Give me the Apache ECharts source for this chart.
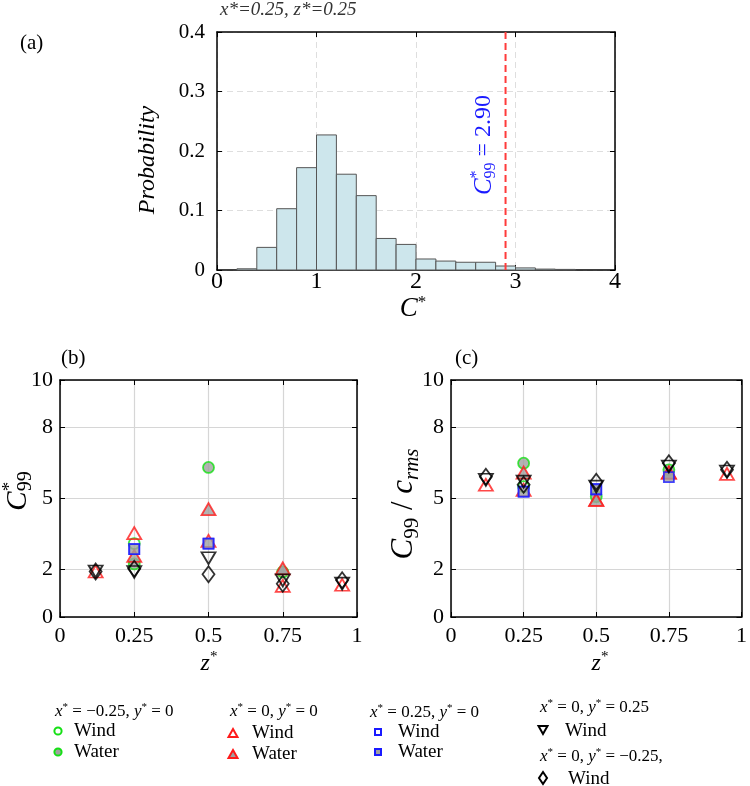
<!DOCTYPE html>
<html><head><meta charset="utf-8">
<script src="https://cdn.jsdelivr.net/npm/echarts@6/dist/echarts.min.js"></script>
<style>html,body{margin:0;padding:0;background:#fff}#c{width:750px;height:786px}</style>
</head><body><div id="c"></div>
<script>
// ---------- DATA ----------
const binEdges = [0.2,0.4,0.6,0.8,1.0,1.2,1.4,1.6,1.8,2.0,2.2,2.4,2.6,2.8,3.0,3.2,3.4,3.6];
const probabilities = [0.002,0.038,0.103,0.172,0.227,0.161,0.125,0.053,0.043,0.0185,0.015,0.013,0.013,0.0067,0.0035,0.0015,0.001];
const c99Value = 2.90;
const histXTicks = [0,1,2,3,4];
const histYTicks = [0,0.1,0.2,0.3,0.4];

const zPositions = [0.12,0.25,0.5,0.75,0.95];
const yTicksBC = [0,2,5,8,10];
// panel (b): C*99
const bWindXm025  = [null,3.10,null,null,null];
const bWaterXm025 = [null,2.24,6.31,1.90,null];
const bWindX0     = [1.92,3.54,3.21,1.31,1.36];
const bWaterX0    = [null,2.58,4.55,2.05,null];
const bWindX025   = [null,2.86,3.10,null,null];
const bWaterX025  = [null,2.86,3.10,null,null];
const bWindY025   = [1.92,1.90,2.48,1.55,1.41];
const bWindYm025  = [1.92,2.04,1.80,1.40,1.55];
// panel (c): C99/c_rms
const cWindXm025  = [null,5.50,null,null,null];
const cWaterXm025 = [null,6.49,5.08,6.21,null];
const cWindX0     = [5.58,5.36,4.94,6.09,6.04];
const cWaterX0    = [null,6.09,4.94,6.09,null];
const cWindX025   = [null,5.29,5.39,null,null];
const cWaterX025  = [null,5.29,5.39,5.90,null];
const cWindY025   = [5.79,5.71,5.50,6.35,6.14];
const cWindYm025  = [5.92,5.58,5.71,6.49,6.21];

// ---------- STYLE ----------
const FF = '"Liberation Serif","Times New Roman",serif';
const GREEN = '#14e014', RED = '#ff1a1a', BLUE = '#1a1aff', GRAY = '#a0a0a0', NONE = 'rgba(0,0,0,0)';
const chart = echarts.init(document.getElementById('c'), null, {renderer:'canvas'});

const mctx = document.createElement('canvas').getContext('2d');
function fstr(p){ return (p.italic?'italic ':'') + p.size + 'px ' + FF; }
function mathGroup(parts, o){
  let x = 0, lastStart = 0; const kids = [];
  parts.forEach(p => {
    mctx.font = fstr(p);
    const w = mctx.measureText(p.t).width;
    const start = p.stack ? lastStart : x;
    lastStart = start;
    kids.push({type:'text', x:start, y:(p.dy||0), style:{text:p.t, fontFamily:FF, fontSize:p.size, fontStyle:p.italic?'italic':'normal', fill:o.color||'#000', align:'left', verticalAlign:'middle'}});
    x = Math.max(x, start + w);
  });
  const off = o.align === 'center' ? -x/2 : (o.align === 'right' ? -x : 0);
  kids.forEach(k => k.x += off);
  return {type:'group', x:o.x, y:o.y, rotation:o.rotation||0, children:kids};
}
function xyHeader(xs, ys, tail){
  const S = 17, s = 11;
  return [
    {t:'x', size:S, italic:true},{t:'*', size:s, dy:-5},{t:' = '+xs+', ', size:S},
    {t:'y', size:S, italic:true},{t:'*', size:s, dy:-5},{t:' = '+ys+(tail||''), size:S}
  ];
}

function pts(arr){ return zPositions.map((z,i)=> arr[i]==null ? null : [z, arr[i]]).filter(Boolean); }

const markerDefs = [
  {sym:'circle', size:11, fill:NONE, stroke:GREEN},
  {sym:'circle', size:11, fill:GRAY, stroke:GREEN},
  {sym:'triangle', size:[14,12], fill:NONE, stroke:RED},
  {sym:'triangle', size:[14,12], fill:GRAY, stroke:RED},
  {sym:'rect', size:10, fill:NONE, stroke:BLUE},
  {sym:'rect', size:10, fill:GRAY, stroke:BLUE},
  {sym:'triangle', size:[14,12], fill:NONE, stroke:'#000', rot:180},
  {sym:'diamond', size:[12,16], fill:NONE, stroke:'#000'}
];
function panelSeries(axisIdx, arrays){
  return arrays.map((arr, k) => {
    const m = markerDefs[k];
    return {type:'scatter', xAxisIndex:axisIdx, yAxisIndex:axisIdx, data:pts(arr),
      symbol:m.sym, symbolSize:m.size, symbolRotate:m.rot||0,
      itemStyle:{color:m.fill, borderColor:m.stroke, borderWidth:1.8}, silent:true, z:3+k};
  });
}

function axisCommon(extra){
  return Object.assign({
    axisLine:{show:true, onZero:false, lineStyle:{color:'#000', width:1.5}},
    axisTick:{show:true, inside:true, length:5, lineStyle:{color:'#000', width:1}},
    axisLabel:{color:'#000', fontFamily:FF, fontSize:22},
  }, extra);
}
const histX = {min:0, max:4, interval:1};
const histY = {min:0, max:0.4, interval:0.1};
const bcX = {min:0, max:1, interval:0.25};
const bcY = {min:0, max:10};
const dashSplit = {show:true, lineStyle:{color:'#dedede', width:1, type:[6,4]}};
const solidSplit = {show:true, lineStyle:{color:'#d6d6d6', width:1.2}};

// bottom axes first, then top (mirror) axes
const xAxes = [
  axisCommon(Object.assign({type:'value', gridIndex:0, position:'bottom', splitLine:dashSplit,
    axisLabel:{color:'#000', fontFamily:FF, fontSize:24, margin:0, hideOverlap:false}}, histX)),
  axisCommon(Object.assign({type:'value', gridIndex:1, position:'bottom', splitLine:solidSplit,
    axisLabel:{color:'#000', fontFamily:FF, fontSize:22, margin:8}}, bcX)),
  axisCommon(Object.assign({type:'value', gridIndex:2, position:'bottom', splitLine:solidSplit,
    axisLabel:{color:'#000', fontFamily:FF, fontSize:22, margin:8}}, bcX)),
  axisCommon(Object.assign({type:'value', gridIndex:0, position:'top', splitLine:{show:false}, axisLabel:{show:false}}, histX)),
  axisCommon(Object.assign({type:'value', gridIndex:1, position:'top', splitLine:{show:false}, axisLabel:{show:false}}, bcX)),
  axisCommon(Object.assign({type:'value', gridIndex:2, position:'top', splitLine:{show:false}, axisLabel:{show:false}}, bcX))
];
function bcYAxis(g, pos, main){
  return axisCommon(Object.assign({type:'value', gridIndex:g, position:pos,
    splitLine: main ? solidSplit : {show:false},
    axisTick:{show:true, inside:true, length:5, customValues:yTicksBC, lineStyle:{color:'#000', width:1}},
    axisLabel: main ? {color:'#000', fontFamily:FF, fontSize:22, margin:7, customValues:yTicksBC} : {show:false}
  }, bcY));
}
const yAxes = [
  axisCommon(Object.assign({type:'value', gridIndex:0, position:'left', splitLine:dashSplit,
    axisLabel:{color:'#000', fontFamily:FF, fontSize:21, margin:12, formatter:v => v===0 ? '0' : v.toFixed(1)}}, histY)),
  bcYAxis(1,'left',true), bcYAxis(2,'left',true),
  axisCommon(Object.assign({type:'value', gridIndex:0, position:'right', splitLine:{show:false}, axisLabel:{show:false}}, histY)),
  bcYAxis(1,'right',false), bcYAxis(2,'right',false)
];

const histData = probabilities.map((p,i) => [binEdges[i], binEdges[i+1], p]);

const series = [
  {type:'custom', xAxisIndex:0, yAxisIndex:0, data:histData, encode:{x:[0,1], y:2}, silent:true,
    renderItem:(params, api) => {
      const a = api.coord([api.value(0), api.value(2)]);
      const b = api.coord([api.value(1), 0]);
      return {type:'rect', shape:{x:a[0], y:a[1], width:b[0]-a[0], height:b[1]-a[1]},
        style:{fill:'#cde6ec', stroke:'#555', lineWidth:1}};
    }},
  {type:'line', xAxisIndex:0, yAxisIndex:0, data:[[c99Value,0],[c99Value,0.4]], symbol:'none', silent:true,
    lineStyle:{color:'#ff3b3b', width:2, type:[7,4]}, z:5},
  ...panelSeries(1, [bWindXm025,bWaterXm025,bWindX0,bWaterX0,bWindX025,bWaterX025,bWindY025,bWindYm025]),
  ...panelSeries(2, [cWindXm025,cWaterXm025,cWindX0,cWaterX0,cWindX025,cWaterX025,cWindY025,cWindYm025])
];

// ---------- ANNOTATIONS / LEGEND ----------
const R = Math.PI/2;
const graphics = [
  {type:'text', x:220, y:10, style:{text:'x*=0.25, z*=0.25', fontFamily:FF, fontSize:19, fontStyle:'italic', fill:'#333', align:'left', verticalAlign:'middle'}},
  {type:'text', x:20, y:43, style:{text:'(a)', fontFamily:FF, fontSize:21, fill:'#000', align:'left', verticalAlign:'middle'}},
  {type:'text', x:61, y:358, style:{text:'(b)', fontFamily:FF, fontSize:21, fill:'#000', align:'left', verticalAlign:'middle'}},
  {type:'text', x:455, y:358, style:{text:'(c)', fontFamily:FF, fontSize:21, fill:'#000', align:'left', verticalAlign:'middle'}},
  {type:'text', x:148, y:160, rotation:R, style:{text:'Probability', fontFamily:FF, fontSize:24, fontStyle:'italic', fill:'#000', align:'center', verticalAlign:'middle'}},
  mathGroup([{t:'C', size:27, italic:true},{t:'*', size:17, dy:-6}], {x:413, y:309, align:'center'}),
  mathGroup([{t:'z', size:24, italic:true},{t:'*', size:15, dy:-7}], {x:209, y:664, align:'center'}),
  mathGroup([{t:'z', size:24, italic:true},{t:'*', size:15, dy:-7}], {x:600, y:664, align:'center'}),
  mathGroup([{t:'C', size:29, italic:true},{t:'*', size:19, dy:-8},{t:'99', size:20, dy:8, stack:true}], {x:18, y:491, rotation:R, align:'center'}),
  mathGroup([{t:'C', size:31, italic:true},{t:'99', size:21, dy:8},{t:' / ', size:31},{t:'c', size:31, italic:true},{t:'rms', size:21, italic:true, dy:8}], {x:404, y:504, rotation:R, align:'center'}),
  mathGroup([{t:'C', size:25, italic:true},{t:'*', size:16, dy:-7},{t:'99', size:16, dy:7, stack:true},{t:' = 2.90', size:24}], {x:484, y:145, rotation:R, align:'center', color:'#1a1aff'}),
  // legend headers
  mathGroup(xyHeader('\u22120.25','0'), {x:55, y:712}),
  mathGroup(xyHeader('0','0'), {x:230, y:712}),
  mathGroup(xyHeader('0.25','0'), {x:370, y:713}),
  mathGroup(xyHeader('0','0.25'), {x:540, y:708}),
  mathGroup(xyHeader('0','\u22120.25', ','), {x:540, y:757}),
];
function lgText(x, y, t){ return {type:'text', x:x, y:y, style:{text:t, fontFamily:FF, fontSize:19, fill:'#000', align:'left', verticalAlign:'middle'}}; }
function tri(cx, cy, down){ const h=4, w=4.5; return down ? [[cx-w,cy-h],[cx+w,cy-h],[cx,cy+h]] : [[cx,cy-h],[cx+w,cy+h],[cx-w,cy+h]]; }
graphics.push(
  {type:'circle', shape:{cx:58, cy:731, r:3.6}, style:{fill:'#fff', stroke:GREEN, lineWidth:2}}, lgText(74,731,'Wind'),
  {type:'circle', shape:{cx:58, cy:752, r:3.6}, style:{fill:GRAY, stroke:GREEN, lineWidth:2}}, lgText(74,752,'Water'),
  {type:'polygon', shape:{points:tri(233,733,false)}, style:{fill:'#fff', stroke:RED, lineWidth:2}}, lgText(252,733,'Wind'),
  {type:'polygon', shape:{points:tri(233,754,false)}, style:{fill:GRAY, stroke:RED, lineWidth:2}}, lgText(252,754,'Water'),
  {type:'rect', shape:{x:375, y:729, width:6, height:6}, style:{fill:'#fff', stroke:BLUE, lineWidth:2}}, lgText(398,732,'Wind'),
  {type:'rect', shape:{x:375, y:749, width:6, height:6}, style:{fill:GRAY, stroke:BLUE, lineWidth:2}}, lgText(398,752,'Water'),
  {type:'polygon', shape:{points:tri(543,730,true)}, style:{fill:'#fff', stroke:'#000', lineWidth:2}}, lgText(565,731,'Wind'),
  {type:'polygon', shape:{points:[[543,772],[547,778],[543,784],[539,778]]}, style:{fill:'#fff', stroke:'#000', lineWidth:2}}, lgText(568,779,'Wind')
);

chart.setOption({
  backgroundColor:'#fff',
  animation:false,
  grid:[
    {left:217, top:32, width:398, height:238, containLabel:false},
    {left:60, top:380, width:297, height:237, containLabel:false},
    {left:451, top:380, width:296, height:237, containLabel:false}
  ],
  xAxis:xAxes, yAxis:yAxes, series:series, graphic:graphics
});
</script></body></html>
